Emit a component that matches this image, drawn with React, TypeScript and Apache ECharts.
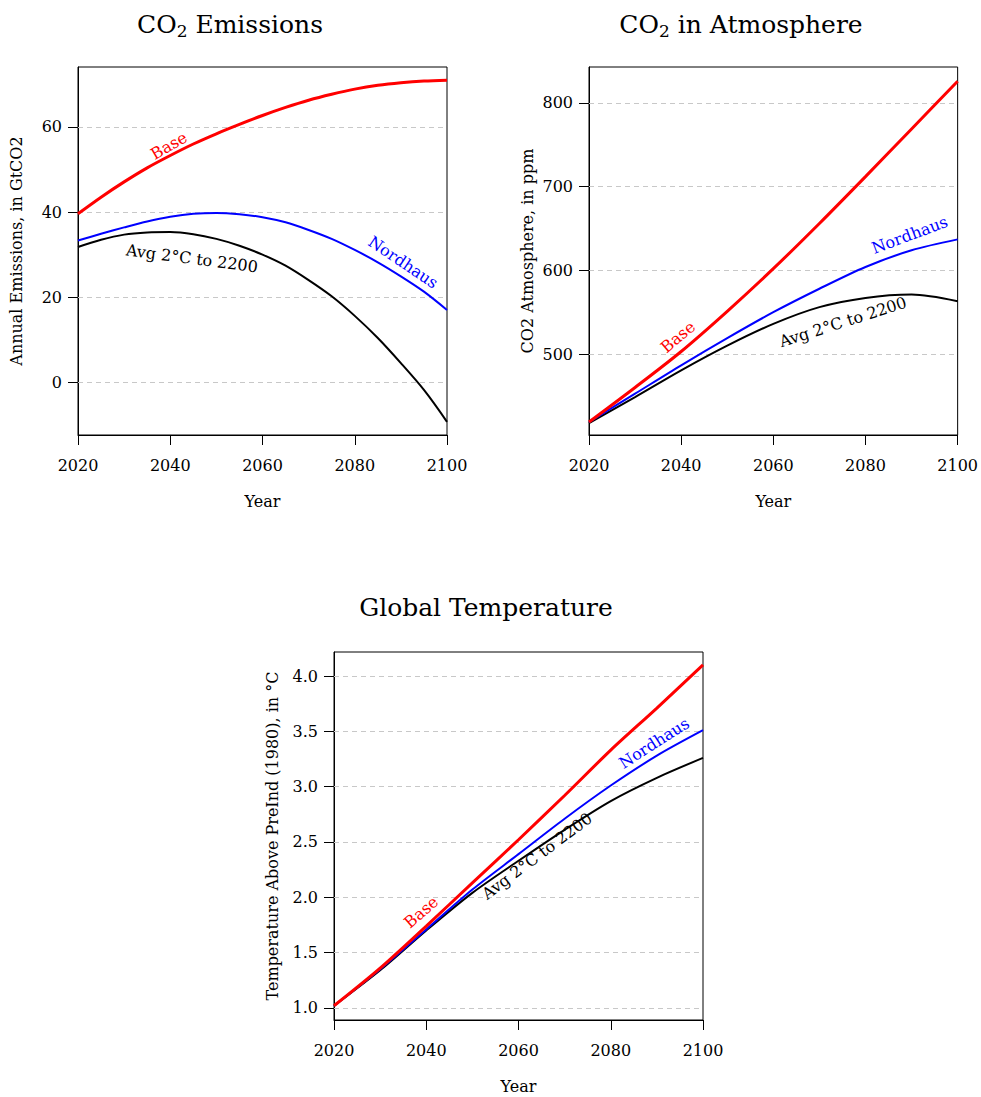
import React, { useEffect, useRef } from 'react';
import * as echarts from 'echarts';

const years5 = [2020, 2025, 2030, 2035, 2040, 2045, 2050, 2055, 2060, 2065, 2070, 2075, 2080, 2085, 2090, 2095, 2100];
const years10 = [2020, 2030, 2040, 2050, 2060, 2070, 2080, 2090, 2100];

const emisBase = [39.6, 43.5, 47.1, 50.4, 53.3, 56.0, 58.4, 60.6, 62.7, 64.6, 66.3, 67.7, 68.9, 69.8, 70.4, 70.8, 71.0];
const emisNordhaus = [33.3, 34.9, 36.4, 37.8, 38.9, 39.6, 39.8, 39.5, 38.8, 37.6, 35.8, 33.7, 31.1, 28.2, 24.9, 21.3, 17.0];
const emisAvg = [31.8, 33.5, 34.7, 35.2, 35.3, 34.8, 33.7, 32.1, 30.0, 27.4, 24.0, 20.2, 15.6, 10.4, 4.5, -1.8, -9.3];

const atmBase = [418.7, 460, 503, 551, 602, 656, 712, 769, 826];
const atmNordhaus = [418.7, 452.6, 486.5, 519, 550, 578, 604, 624, 637];
const atmAvg = [417.5, 448.6, 480.5, 510, 536, 556, 567, 571, 563];

const tempBase = [1.02, 1.36, 1.74, 2.13, 2.52, 2.92, 3.33, 3.71, 4.1];
const tempNordhaus = [1.02, 1.35, 1.71, 2.07, 2.39, 2.71, 3.01, 3.28, 3.51];
const tempAvg = [1.02, 1.34, 1.70, 2.04, 2.33, 2.61, 2.87, 3.08, 3.26];

const xTicks = [2020, 2040, 2060, 2080, 2100];
const yTicksEmis = [0, 20, 40, 60];
const yTicksAtm = [500, 600, 700, 800];
const gridAtm = [400, 500, 600, 700, 800];
const yTicksTemp = [1.0, 1.5, 2.0, 2.5, 3.0, 3.5, 4.0];

const seriesNames = ['Base', 'Nordhaus', 'Avg 2°C to 2200'];
const seriesColors = ['#ff0000', '#0000ff', '#000000'];
const seriesWidths = [3, 2, 2];

// label anchors: [grid, seriesIndex, year, value, angleDeg]
const lineLabels: [number, number, number, number, number][] = [
  [0, 0, 2039.7, 55.6, 30],
  [0, 1, 2090.5, 28.2, -34],
  [0, 2, 2044.7, 29.1, -7.4],
  [1, 0, 2039.3, 520.4, 40],
  [1, 1, 2089.6, 642.3, 20.5],
  [1, 2, 2075.1, 538.3, 17.7],
  [2, 0, 2038.9, 1.866, 41],
  [2, 1, 2089.4, 3.394, 32.5],
  [2, 2, 2064.0, 2.373, 36.8],
];

const FONT = 'DejaVu Serif';

const grids = [
  { left: 78, top: 67, width: 369, height: 368 },
  { left: 589, top: 67, width: 369, height: 368 },
  { left: 334, top: 652, width: 369, height: 368 },
];

const yNames = ['Annual Emissions, in GtCO2', 'CO2 Atmosphere, in ppm', 'Temperature Above PreInd (1980), in °C'];
const yRanges = [
  { min: -12.4, max: 74.1 },
  { min: 403.2, max: 843 },
  { min: 0.891, max: 4.217 },
];

export default function App() {
  const ref = useRef<HTMLDivElement>(null);
  useEffect(() => {
    if (!ref.current) return;
    const chart = echarts.init(ref.current, null, { renderer: 'svg' });
    const dataSets = [
      { xs: years5, sets: [emisBase, emisNordhaus, emisAvg] },
      { xs: years10, sets: [atmBase, atmNordhaus, atmAvg] },
      { xs: years10, sets: [tempBase, tempNordhaus, tempAvg] },
    ];
    const yTicks = [yTicksEmis, yTicksAtm, yTicksTemp];
    const gridVals = [yTicksEmis, gridAtm, yTicksTemp];
    const series: any[] = [];
    dataSets.forEach((ds, gi) => {
      series.push({
        type: 'line',
        xAxisIndex: gi,
        yAxisIndex: gi,
        data: [],
        z: 1,
        silent: true,
        markLine: {
          silent: true,
          symbol: 'none',
          label: { show: false },
          lineStyle: { color: '#c8c8c8', type: [5, 4], width: 1 },
          data: gridVals[gi].map((v) => ({ yAxis: v })),
        },
      });
      ds.sets.forEach((vals, si) => {
        series.push({
          type: 'line',
          name: seriesNames[si],
          xAxisIndex: gi,
          yAxisIndex: gi,
          data: ds.xs.map((y, i) => [y, vals[i]]),
          showSymbol: false,
          smooth: 0.3,
          lineStyle: { color: seriesColors[si], width: seriesWidths[si] },
          z: 10 - si,
        });
      });
    });
    const axisCommon = {
      axisLine: { show: true, onZero: false, lineStyle: { color: '#000', width: 1 } },
      nameTextStyle: { fontFamily: FONT, fontSize: 16, color: '#000' },
      nameMoveOverlap: false,
    };
    const xAxis = grids.map((_, gi) => ({
      ...axisCommon,
      type: 'value',
      gridIndex: gi,
      min: 2020,
      max: 2100,
      interval: 20,
      name: 'Year',
      nameLocation: 'middle',
      nameGap: 58,
      splitLine: { show: false },
      axisTick: { show: true, inside: false, length: 10, lineStyle: { color: '#000' }, customValues: xTicks },
      axisLabel: {
        fontFamily: FONT,
        fontSize: 16,
        color: '#000',
        margin: 22,
        customValues: xTicks,
        formatter: (v: number) => String(v),
      },
    }));
    const yAxis = grids.map((_, gi) => ({
      ...axisCommon,
      type: 'value',
      gridIndex: gi,
      min: yRanges[gi].min,
      max: yRanges[gi].max,
      name: yNames[gi],
      nameLocation: 'middle',
      nameGap: 54,
      splitLine: { show: false },
      axisTick: { show: true, inside: false, length: 10, lineStyle: { color: '#000' }, customValues: yTicks[gi] },
      axisLabel: {
        fontFamily: FONT,
        fontSize: 16,
        color: '#000',
        margin: 16,
        customValues: yTicks[gi],
        formatter: (v: number) => (gi === 2 ? v.toFixed(1) : String(v)),
      },
    }));
    const titleRich = {
      a: { fontFamily: FONT, fontSize: 25, fontWeight: 'normal', color: '#000' },
      b: { fontFamily: FONT, fontSize: 17, fontWeight: 'normal', color: '#000', padding: [12, 0, 0, 0] },
    };
    chart.setOption({
      animation: false,
      backgroundColor: '#fff',
      title: [
        { text: '{a|CO}{b|2}{a| Emissions}', left: 225, top: 5, textAlign: 'center', textStyle: { rich: titleRich } },
        { text: '{a|CO}{b|2}{a| in Atmosphere}', left: 736, top: 5, textAlign: 'center', textStyle: { rich: titleRich } },
        { text: '{a|Global Temperature}', left: 481, top: 590, textAlign: 'center', textStyle: { rich: titleRich } },
      ],
      grid: grids.map((g) => ({ ...g, show: true, borderColor: '#000', borderWidth: 1, backgroundColor: 'transparent' })),
      xAxis,
      yAxis,
      series,
    });
    const graphic = lineLabels.map(([gi, si, x, y, ang]) => {
      const p = chart.convertToPixel({ gridIndex: gi }, [x, y]) as number[];
      return {
        type: 'text',
        x: p[0],
        y: p[1],
        rotation: (ang * Math.PI) / 180,
        z: 100,
        style: {
          text: seriesNames[si],
          fontFamily: FONT,
          fontSize: 16,
          fill: seriesColors[si],
          align: 'center',
          verticalAlign: 'middle',
        },
      };
    });
    chart.setOption({ graphic });
    return () => chart.dispose();
  }, []);
  return <div ref={ref} style={{ position: 'absolute', left: 0, top: 0, width: 981, height: 1097 }} />;
}
